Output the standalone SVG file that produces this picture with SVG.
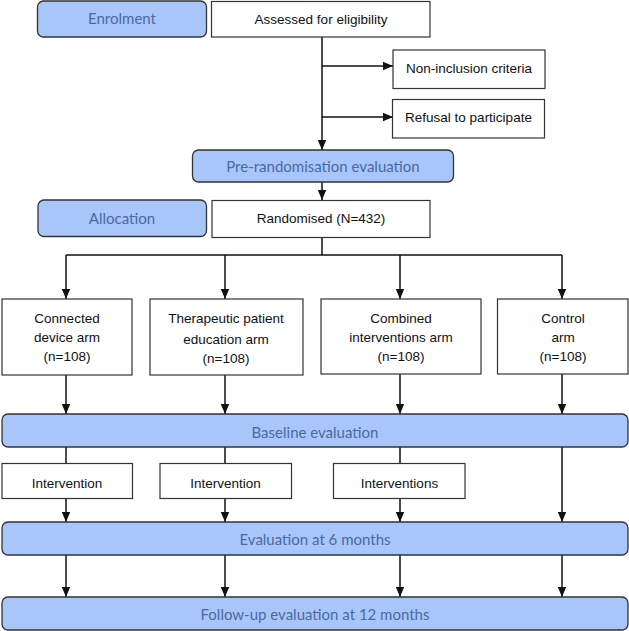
<svg xmlns="http://www.w3.org/2000/svg" width="629" height="631" viewBox="0 0 629 631">
<style>
.stage{fill:#a9c6fa;stroke:#333;stroke-width:1.3}
.stxt{font-family:Lato,"Open Sans",sans-serif;font-size:15px;fill:#4a6aa2;text-anchor:middle}
.box{fill:#fff;stroke:#333;stroke-width:1.2}
.btxt{font-family:"Liberation Sans",Arial,sans-serif;font-size:13.5px;fill:#111;text-anchor:middle}
.conn{fill:none;stroke:#111;stroke-width:1.5}
</style>
<defs>
<marker id="ah" markerUnits="userSpaceOnUse" markerWidth="10" markerHeight="10" viewBox="0 0 10 10" refX="10" refY="5" orient="auto">
<path d="M0,0.8 L10,5 L0,9.2 Z" fill="#111"/>
</marker>
</defs>
<rect width="629" height="631" fill="#fff"/>

<g id="connectors">
<path class="conn" d="M322 37 V150" marker-end="url(#ah)"/>
<path class="conn" d="M322 66 H393" marker-end="url(#ah)"/>
<path class="conn" d="M322 117 H393" marker-end="url(#ah)"/>
<path class="conn" d="M322 182 V200" marker-end="url(#ah)"/>
<path class="conn" d="M322 238 V255 M66 255 H562"/>
<path class="conn" d="M66 255 V299" marker-end="url(#ah)"/>
<path class="conn" d="M225 255 V299" marker-end="url(#ah)"/>
<path class="conn" d="M400 255 V299" marker-end="url(#ah)"/>
<path class="conn" d="M562 255 V299" marker-end="url(#ah)"/>
<path class="conn" d="M66 375 V414" marker-end="url(#ah)"/>
<path class="conn" d="M225 375 V414" marker-end="url(#ah)"/>
<path class="conn" d="M400 374 V414" marker-end="url(#ah)"/>
<path class="conn" d="M562 374 V414" marker-end="url(#ah)"/>
<path class="conn" d="M66 447 V463 M225 447 V463 M400 447 V463"/>
<path class="conn" d="M66 498 V522" marker-end="url(#ah)"/>
<path class="conn" d="M225 498 V522" marker-end="url(#ah)"/>
<path class="conn" d="M400 498 V522" marker-end="url(#ah)"/>
<path class="conn" d="M562 447 V522" marker-end="url(#ah)"/>
<path class="conn" d="M66 555 V597" marker-end="url(#ah)"/>
<path class="conn" d="M225 555 V597" marker-end="url(#ah)"/>
<path class="conn" d="M400 555 V597" marker-end="url(#ah)"/>
<path class="conn" d="M562 555 V597" marker-end="url(#ah)"/>
</g>

<g id="enrolment"><rect class="stage" x="37.5" y="1" width="169" height="36" rx="6"/><text class="stxt" x="122" y="23.5">Enrolment</text></g>
<g id="assessed"><rect class="box" x="211.5" y="1.5" width="218.5" height="35.5"/><text class="btxt" x="321" y="24">Assessed for eligibility</text></g>
<g id="noninclusion"><rect class="box" x="393" y="50" width="152" height="38.5"/><text class="btxt" x="469" y="73">Non-inclusion criteria</text></g>
<g id="refusal"><rect class="box" x="392.5" y="99.5" width="152" height="38.5"/><text class="btxt" x="468.5" y="122">Refusal to participate</text></g>
<g id="prerand"><rect class="stage" x="192.5" y="150" width="261" height="32" rx="6"/><text class="stxt" x="323" y="172">Pre-randomisation evaluation</text></g>
<g id="allocation"><rect class="stage" x="38" y="200" width="168.5" height="36.5" rx="6"/><text class="stxt" x="122" y="223.5">Allocation</text></g>
<g id="randomised"><rect class="box" x="212" y="200.5" width="218" height="37"/><text class="btxt" x="321" y="223">Randomised (N=432)</text></g>

<g id="arm1"><rect class="box" x="2" y="299" width="130" height="76"/>
<text class="btxt" x="67" y="323">Connected</text><text class="btxt" x="67" y="342">device arm</text><text class="btxt" x="67" y="361">(n=108)</text></g>
<g id="arm2"><rect class="box" x="150" y="299" width="153" height="76"/>
<text class="btxt" x="226" y="323">Therapeutic patient</text><text class="btxt" x="226" y="343.5">education arm</text><text class="btxt" x="226" y="363">(n=108)</text></g>
<g id="arm3"><rect class="box" x="321" y="299" width="160" height="75"/>
<text class="btxt" x="401" y="322.5">Combined</text><text class="btxt" x="401" y="341.5">interventions arm</text><text class="btxt" x="401" y="360.5">(n=108)</text></g>
<g id="arm4"><rect class="box" x="497.5" y="299" width="130.5" height="75"/>
<text class="btxt" x="563" y="322.5">Control</text><text class="btxt" x="563" y="341.5">arm</text><text class="btxt" x="563" y="360.5">(n=108)</text></g>

<g id="baseline"><rect class="stage" x="2" y="414" width="626" height="33" rx="6"/><text class="stxt" x="315" y="438">Baseline evaluation</text></g>

<g id="int1"><rect class="box" x="2" y="463.5" width="130.5" height="35"/><text class="btxt" x="67" y="487.5">Intervention</text></g>
<g id="int2"><rect class="box" x="160" y="463.5" width="131.5" height="35"/><text class="btxt" x="225.5" y="487.5">Intervention</text></g>
<g id="int3"><rect class="box" x="333.5" y="463.5" width="131.5" height="35"/><text class="btxt" x="399.5" y="487.5">Interventions</text></g>

<g id="month6"><rect class="stage" x="2" y="522" width="626" height="33" rx="6"/><text class="stxt" x="315" y="545">Evaluation at 6 months</text></g>
<g id="month12"><rect class="stage" x="2" y="597" width="626" height="33" rx="6"/><text class="stxt" x="315" y="620">Follow-up evaluation at 12 months</text></g>
</svg>
